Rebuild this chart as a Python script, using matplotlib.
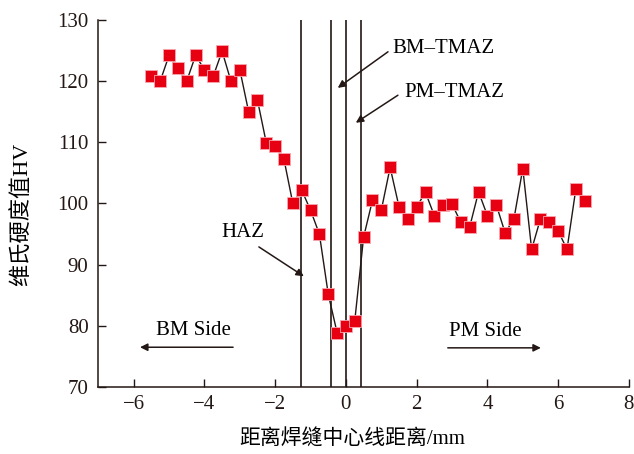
"""
Vickers hardness profile across the weld centre line.
"""

import matplotlib
import matplotlib.pyplot as plt

matplotlib.use('Agg')

# distance from weld centre line (mm) and hardness (HV)
distance = [-5.5, -5.25, -5.0, -4.75, -4.5, -4.25, -4.0, -3.75, -3.5, -3.25,
            -3.0, -2.75, -2.5, -2.25, -2.0, -1.75, -1.5, -1.25, -1.0, -0.75,
            -0.5, -0.25, 0.0, 0.25, 0.5, 0.75, 1.0, 1.25, 1.5, 1.75,
            2.0, 2.25, 2.5, 2.75, 3.0, 3.25, 3.5, 3.75, 4.0, 4.25,
            4.5, 4.75, 5.0, 5.25, 5.5, 5.75, 6.0, 6.25, 6.5, 6.75]
hardness = [120.8, 120.0, 124.2, 122.1, 120.0, 124.2, 121.9, 120.8, 124.9, 120.0,
            121.9, 115.0, 116.9, 109.9, 109.4, 107.2, 100.0, 102.2, 98.9, 95.0,
            85.2, 78.9, 80.0, 80.8, 94.5, 100.5, 98.9, 105.9, 99.5, 97.4,
            99.5, 101.8, 98.0, 99.8, 99.9, 96.9, 96.2, 101.9, 98.0, 99.8,
            95.2, 97.5, 105.7, 92.5, 97.5, 97.0, 95.5, 92.5, 102.4, 100.4]

# zone boundaries (mm)
boundaries = [-1.28, -0.43, 0.0, 0.44]

x_ticks = [-6, -4, -2, 0, 2, 4, 6, 8]
y_ticks = [70, 80, 90, 100, 110, 120, 130]

SERIF = ['Liberation Serif', 'Noto Sans CJK SC']
plt.rcParams['font.family'] = SERIF
plt.rcParams['font.size'] = 15

fig = plt.figure(figsize=(6.34, 4.54), dpi=100)
ax = fig.add_axes([0.155, 0.1476, 0.837, 0.8084])

for b in boundaries:
    ax.axvline(b, color='#231815', lw=1.2, zorder=1)

ax.plot(distance, hardness, color='#231815', lw=1.0, zorder=2,
        marker='s', markersize=8, markerfacecolor='#e60012',
        markeredgecolor='#f7a8b0', markeredgewidth=0.6)

arrow = dict(arrowstyle='-|>', color='#231815', lw=1.1,
             mutation_scale=11, shrinkA=0, shrinkB=0)

ax.text(2.77, 125.3, 'BM–TMAZ', ha='center', va='center')
ax.annotate('', xy=(-0.23, 118.9), xytext=(1.19, 124.8), arrowprops=arrow)
ax.text(3.08, 118.1, 'PM–TMAZ', ha='center', va='center')
ax.annotate('', xy=(0.28, 113.2), xytext=(1.47, 117.7), arrowprops=arrow)
ax.text(-2.91, 95.2, 'HAZ', ha='center', va='center')
ax.annotate('', xy=(-1.19, 88.1), xytext=(-2.46, 92.9), arrowprops=arrow)
ax.text(-4.32, 79.2, 'BM Side', ha='center', va='center')
ax.annotate('', xy=(-5.82, 76.5), xytext=(-3.19, 76.5), arrowprops=arrow)
ax.text(3.95, 79.0, 'PM Side', ha='center', va='center')
ax.annotate('', xy=(5.51, 76.4), xytext=(2.88, 76.4), arrowprops=arrow)

ax.set_xlim(-7, 8)
ax.set_ylim(70, 130)
ax.set_xticks(x_ticks)
ax.set_yticks(y_ticks)
ax.tick_params(direction='in', length=6, width=1.0, pad=7, colors='#231815')
ax.tick_params(axis='x', pad=6)

for side in ['top', 'right']:
    ax.spines[side].set_visible(False)
for side in ['left', 'bottom']:
    ax.spines[side].set_linewidth(1.1)
    ax.spines[side].set_color('#231815')

ax.set_xlabel('距离焊缝中心线距离/mm', fontsize=15, va='center')
ax.set_ylabel('维氏硬度值HV', fontsize=16, va='center')
ax.xaxis.set_label_coords(0.478, -0.144)
ax.yaxis.set_label_coords(-0.144, 0.47)

plt.savefig('out.png', dpi=100)
plt.close()
